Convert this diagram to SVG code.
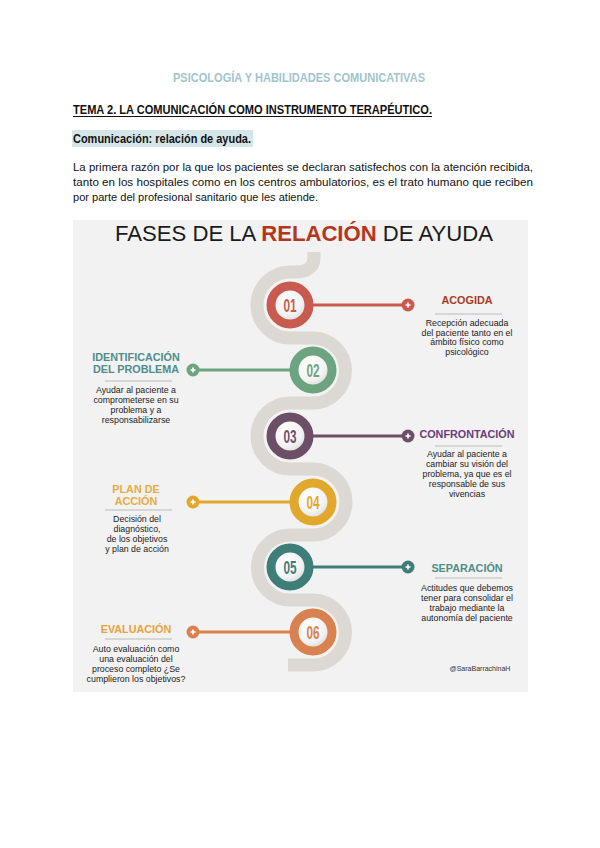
<svg xmlns="http://www.w3.org/2000/svg" width="600" height="848" viewBox="0 0 600 848">
<defs>
<radialGradient id="inner" cx="0.4" cy="0.35" r="0.7">
<stop offset="0" stop-color="#ffffff"/>
<stop offset="0.6" stop-color="#f2f2f2"/>
<stop offset="1" stop-color="#cfcfcf"/>
</radialGradient>
<style>
.doc{font-family:"Liberation Sans",Arial,sans-serif;fill:#111}
.lbl{font-family:"Liberation Sans",Arial,sans-serif;font-weight:bold;font-size:10.8px;text-anchor:middle}
.desc{font-family:"Liberation Sans",Arial,sans-serif;font-size:8.8px;fill:#222;text-anchor:middle}
.num{font-family:"Liberation Sans",Arial,sans-serif;font-size:19px;font-weight:bold;text-anchor:middle}
.sep{stroke:#d6d6d6;stroke-width:2}
.ring{stroke-width:9;fill:url(#inner)}
.plus{stroke:#fff;stroke-width:1.6}
</style>
</defs>
<rect width="600" height="848" fill="#ffffff"/>

<g id="header">
<text class="doc" x="299" y="82" font-size="12" font-weight="bold" text-anchor="middle" textLength="252" lengthAdjust="spacingAndGlyphs" style="fill:#9fc6cc">PSICOLOGÍA Y HABILIDADES COMUNICATIVAS</text>
<text class="doc" x="73" y="114" font-size="12" font-weight="bold" textLength="359" lengthAdjust="spacingAndGlyphs">TEMA 2. LA COMUNICACIÓN COMO INSTRUMENTO TERAPÉUTICO.</text>
<line x1="73" y1="116.5" x2="432" y2="116.5" stroke="#111" stroke-width="1"/>
<rect x="72" y="130" width="181" height="17" fill="#d5e6e9"/>
<text class="doc" x="73" y="143" font-size="12" font-weight="bold" textLength="178" lengthAdjust="spacingAndGlyphs">Comunicación: relación de ayuda.</text>
<text class="doc" x="73" y="171" font-size="11.5" textLength="460" lengthAdjust="spacingAndGlyphs">La primera razón por la que los pacientes se declaran satisfechos con la atención recibida,</text>
<text class="doc" x="73" y="186" font-size="11.5" textLength="460" lengthAdjust="spacingAndGlyphs">tanto en los hospitales como en los centros ambulatorios, es el trato humano que reciben</text>
<text class="doc" x="73" y="201" font-size="11.5" textLength="245" lengthAdjust="spacingAndGlyphs">por parte del profesional sanitario que les atiende.</text>
</g>

<rect x="73" y="220" width="455" height="472" fill="#f2f2f2"/>

<g id="title">
<text x="304" y="241" font-family="'Liberation Sans',Arial,sans-serif" font-size="22" text-anchor="middle" fill="#1a1a1a" textLength="378" lengthAdjust="spacingAndGlyphs">FASES DE LA <tspan font-weight="bold" fill="#b5361c">RELACIÓN</tspan> DE AYUDA</text>
</g>

<g id="connectors">
<path d="M314,252 L314,258 C314,268 306,272 296,272 L290,272 A33,33 0 0 0 290,338 L313,338 A32.5,32.5 0 0 1 313,403 L290,403 A33,33 0 0 0 290,469 L313,469 A33,33 0 0 1 313,535 L290,535 A32.5,32.5 0 0 0 290,600 L313,600 A32.5,32.5 0 0 1 313,665 L288,665" fill="none" stroke="#dcd8d4" stroke-width="13"/>
<line x1="312" y1="305" x2="408" y2="305" stroke="#c85a4f" stroke-width="3"/>
<line x1="193" y1="370" x2="292" y2="370" stroke="#6ca47f" stroke-width="3"/>
<line x1="312" y1="436" x2="408" y2="436" stroke="#6c4f66" stroke-width="3"/>
<line x1="193" y1="502" x2="292" y2="502" stroke="#e1a82c" stroke-width="3"/>
<line x1="312" y1="567" x2="408" y2="567" stroke="#3f7d78" stroke-width="3"/>
<line x1="193" y1="632" x2="292" y2="632" stroke="#d9824f" stroke-width="3"/>
</g>

<g id="node01">
<circle class="ring" cx="290" cy="305" r="19" stroke="#c85a4f"/>
<text class="num" transform="translate(290,312) scale(0.62,1)" fill="#c85a4f">01</text>
<circle cx="408" cy="305" r="6.5" fill="#c85a4f"/>
<path class="plus" d="M405.5,305 H410.5 M408,302.5 V307.5"/>
<text class="lbl" x="467" y="304" fill="#aa3a1f">ACOGIDA</text>
<line class="sep" x1="435" y1="314" x2="502" y2="314"/>
<text class="desc" x="467" y="326">Recepción adecuada</text>
<text class="desc" x="467" y="335.5">del paciente tanto en el</text>
<text class="desc" x="467" y="345">ámbito físico como</text>
<text class="desc" x="467" y="354.5">psicológico</text>
</g>

<g id="node02">
<circle class="ring" cx="313" cy="370" r="19" stroke="#6ca47f"/>
<text class="num" transform="translate(313,377) scale(0.62,1)" fill="#6ca47f">02</text>
<circle cx="193" cy="370" r="6.5" fill="#6ca47f"/>
<path class="plus" d="M190.5,370 H195.5 M193,367.5 V372.5"/>
<text class="lbl" x="136" y="361" fill="#4f8d8a">IDENTIFICACIÓN</text>
<text class="lbl" x="136" y="373" fill="#4f8d8a">DEL PROBLEMA</text>
<line class="sep" x1="105" y1="381" x2="172" y2="381"/>
<text class="desc" x="136" y="392.5">Ayudar al paciente a</text>
<text class="desc" x="136" y="402.5">comprometerse en su</text>
<text class="desc" x="136" y="412.5">problema y a</text>
<text class="desc" x="136" y="422.5">responsabilizarse</text>
</g>

<g id="node03">
<circle class="ring" cx="290" cy="436" r="19" stroke="#6c4f66"/>
<text class="num" transform="translate(290,443) scale(0.62,1)" fill="#6c4f66">03</text>
<circle cx="408" cy="436" r="6.5" fill="#6c4f66"/>
<path class="plus" d="M405.5,436 H410.5 M408,433.5 V438.5"/>
<text class="lbl" x="467" y="438" fill="#6a3c7a">CONFRONTACIÓN</text>
<line class="sep" x1="435" y1="446" x2="502" y2="446"/>
<text class="desc" x="467" y="457">Ayudar al paciente a</text>
<text class="desc" x="467" y="467">cambiar su visión del</text>
<text class="desc" x="467" y="477">problema, ya que es el</text>
<text class="desc" x="467" y="487">responsable de sus</text>
<text class="desc" x="467" y="497">vivencias</text>
</g>

<g id="node04">
<circle class="ring" cx="313" cy="502" r="19" stroke="#e1a82c"/>
<text class="num" transform="translate(313,509) scale(0.62,1)" fill="#e1a82c">04</text>
<circle cx="193" cy="502" r="6.5" fill="#e1a82c"/>
<path class="plus" d="M190.5,502 H195.5 M193,499.5 V504.5"/>
<text class="lbl" x="136" y="493" fill="#e8ab45">PLAN DE</text>
<text class="lbl" x="136" y="505" fill="#e8ab45">ACCIÓN</text>
<line class="sep" x1="105" y1="510" x2="172" y2="510"/>
<text class="desc" x="137" y="522">Decisión del</text>
<text class="desc" x="137" y="532">diagnóstico,</text>
<text class="desc" x="137" y="542">de los objetivos</text>
<text class="desc" x="137" y="552">y plan de acción</text>
</g>

<g id="node05">
<circle class="ring" cx="290" cy="567" r="19" stroke="#3f7d78"/>
<text class="num" transform="translate(290,574) scale(0.62,1)" fill="#3f7d78">05</text>
<circle cx="408" cy="567" r="6.5" fill="#3f7d78"/>
<path class="plus" d="M405.5,567 H410.5 M408,564.5 V569.5"/>
<text class="lbl" x="467" y="572" fill="#4f8d8a">SEPARACIÓN</text>
<line class="sep" x1="435" y1="578" x2="502" y2="578"/>
<text class="desc" x="467" y="591">Actitudes que debemos</text>
<text class="desc" x="467" y="601">tener para consolidar el</text>
<text class="desc" x="467" y="611">trabajo mediante la</text>
<text class="desc" x="467" y="621">autonomía del paciente</text>
</g>

<g id="node06">
<circle class="ring" cx="313" cy="632" r="19" stroke="#d9824f"/>
<text class="num" transform="translate(313,639) scale(0.62,1)" fill="#d9824f">06</text>
<circle cx="193" cy="632" r="6.5" fill="#d9824f"/>
<path class="plus" d="M190.5,632 H195.5 M193,629.5 V634.5"/>
<text class="lbl" x="136" y="633" fill="#e6a23c">EVALUACIÓN</text>
<line class="sep" x1="105" y1="639" x2="172" y2="639"/>
<text class="desc" x="136" y="652">Auto evaluación como</text>
<text class="desc" x="136" y="662">una evaluación del</text>
<text class="desc" x="136" y="672">proceso completo ¿Se</text>
<text class="desc" x="136" y="682">cumplieron los objetivos?</text>
</g>

<g id="credit">
<text x="480" y="670.5" font-family="'Liberation Sans',Arial,sans-serif" font-size="7" text-anchor="middle" fill="#333">@SaraBarrachinaH</text>
</g>
</svg>
